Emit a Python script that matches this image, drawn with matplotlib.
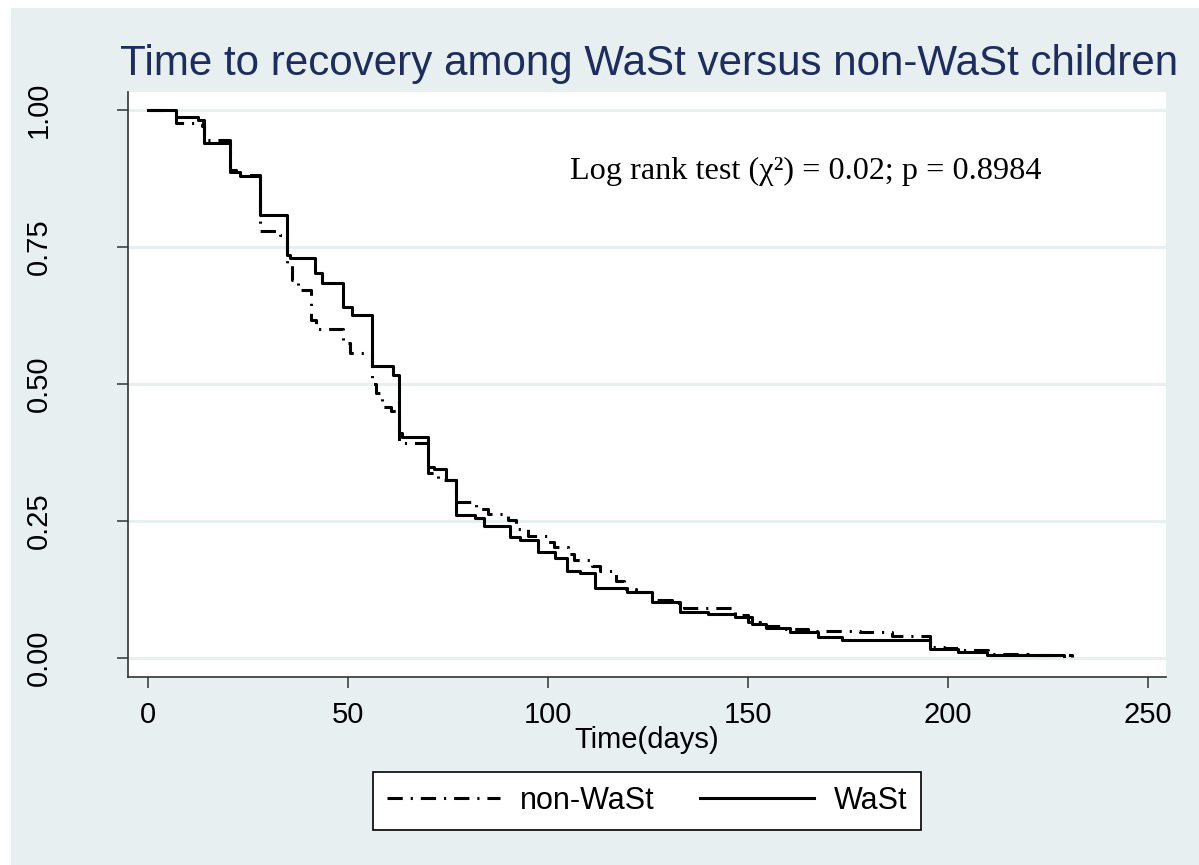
import numpy as np
import matplotlib.pyplot as plt
from matplotlib.patches import Rectangle

# Kaplan-Meier steps (time in days, survival after the step)
wast_t = [0, 7, 12.5, 14, 20.5, 23, 28, 34.7, 35.5, 41.75, 43.5, 48.8, 50.9, 55.9,
          61.3, 62.8, 63.5, 70, 71.5, 74.5, 77, 81.75, 84, 90.5, 93, 97.6, 101.8,
          104.7, 108, 111.75, 119.7, 125.9, 133, 140, 146.75, 150.9, 154.5, 160.5,
          167.6, 173.4, 195.5, 202.6, 209.7, 229]
wast_s = [1.0, 0.987, 0.982, 0.939, 0.887, 0.880, 0.808, 0.735, 0.729, 0.702, 0.685,
          0.641, 0.626, 0.532, 0.516, 0.410, 0.404, 0.349, 0.345, 0.325, 0.261, 0.255,
          0.240, 0.220, 0.215, 0.194, 0.182, 0.159, 0.155, 0.127, 0.121, 0.103, 0.0845,
          0.080, 0.075, 0.062, 0.054, 0.048, 0.038, 0.033, 0.016, 0.0115, 0.0055, 0.003]

nonwast_t = [0, 7, 13.5, 14, 20.5, 22, 28, 33, 34.7, 36, 37.5, 40.75, 42, 48.8, 50.5,
             56, 57, 58.5, 60.7, 62.8, 70, 72.5, 77, 82, 85, 90, 92, 95, 100, 101.5,
             105, 106.5, 111, 113, 117, 119, 122, 126, 131, 134, 146.75, 150, 153,
             158, 165, 178, 186, 195.5, 199, 203, 210, 220, 231]
nonwast_s = [1.0, 0.976, 0.970, 0.946, 0.890, 0.882, 0.780, 0.772, 0.720, 0.690, 0.672,
             0.617, 0.600, 0.575, 0.556, 0.500, 0.483, 0.458, 0.450, 0.392, 0.338, 0.325,
             0.285, 0.272, 0.262, 0.252, 0.235, 0.222, 0.212, 0.203, 0.190, 0.179, 0.168,
             0.158, 0.140, 0.125, 0.120, 0.106, 0.100, 0.092, 0.078, 0.065, 0.058, 0.052,
             0.050, 0.047, 0.040, 0.020, 0.019, 0.014, 0.008, 0.006, 0.002]

xticks = [0, 50, 100, 150, 200, 250]
yticks = [0, 0.25, 0.5, 0.75, 1.0]
ytick_labels = ['0.00', '0.25', '0.50', '0.75', '1.00']

plt.rcParams['font.family'] = ['Liberation Sans', 'DejaVu Sans']

W, H = 1199, 865
fig = plt.figure(figsize=(W / 100, H / 100), dpi=100, facecolor='white')
fig.patches.append(Rectangle((11 / W, 0), 1 - 11 / W, 1 - 8 / H, transform=fig.transFigure,
                             facecolor='#e7eff1', edgecolor='none', zorder=-1))

ax = fig.add_axes([128 / W, 1 - 677 / H, (1166 - 128) / W, (677 - 92) / H])
ax.set_facecolor('white')

for y in yticks:
    ax.axhline(y, color='#e7eff1', lw=2.2, zorder=0)

ax.step(nonwast_t, nonwast_s, where='post', color='black', lw=2.2,
        dashes=(5, 2.6, 0.7, 2.6), dash_capstyle='butt', label='non-WaSt')
ax.step(wast_t, wast_s, where='post', color='black', lw=2.2, label='WaSt')

ax.set_xlim(-5, 254.5)
ax.set_ylim(-0.0347, 1.0328)
ax.set_xticks(xticks)
ax.set_yticks(yticks)
ax.set_yticklabels(ytick_labels, rotation=90, va='center')
ax.tick_params(axis='both', labelsize=21, length=8, width=1.1, color='#333333')
ax.tick_params(axis='y', pad=46)
ax.tick_params(axis='x', pad=9)
for s in ['top', 'right']:
    ax.spines[s].set_visible(False)
for s in ['left', 'bottom']:
    ax.spines[s].set_color('#333333')
    ax.spines[s].set_linewidth(1.2)

ax.set_xlabel('Time(days)', fontsize=21, labelpad=-2)

ax.text(164.5, 0.887, 'Log rank test (χ²) = 0.02; p = 0.8984', family='Liberation Serif',
        fontsize=23.2, ha='center', va='center')

fig.text(649 / W, 1 - 64 / H, 'Time to recovery among WaSt versus non-WaSt children',
         fontsize=30.3, color='#1e2d5c', ha='center', va='center')

leg = fig.legend(loc='center', bbox_to_anchor=(647 / W, 1 - 801 / H), ncol=2, fontsize=22,
                 frameon=True, fancybox=False, edgecolor='black', facecolor='white',
                 framealpha=1, handlelength=3.7, columnspacing=1.5, handletextpad=0.65,
                 borderpad=0.45, borderaxespad=0)
leg.get_frame().set_linewidth(1.2)

fig.savefig('out.png', dpi=100, facecolor=fig.get_facecolor())
